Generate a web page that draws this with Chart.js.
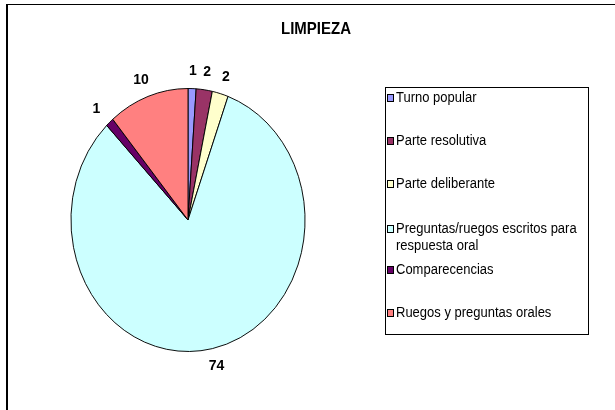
<!DOCTYPE html>
<html>
<head>
<meta charset="utf-8">
<script src="https://cdn.jsdelivr.net/npm/chart.js@4.4.0/dist/chart.umd.min.js"></script>
<style>
  html, body { margin: 0; padding: 0; background: #fff; overflow: hidden; }
  #wrap { position: relative; width: 615px; height: 410px; }
  #frame { position: absolute; left: 6px; top: 4px; width: 700px; height: 500px;
           border-top: 1px solid #000; border-left: 2px solid #000; }
  canvas { position: absolute; left: 0; top: 0; }
</style>
</head>
<body>
<div id="wrap">
  <div id="frame"></div>
  <canvas id="chartLimpieza" width="615" height="410"></canvas>
</div>
<script>
// data
var chartTitle = "LIMPIEZA";
var categories = [
    "Turno popular",
    "Parte resolutiva",
    "Parte deliberante",
    "Preguntas/ruegos escritos para respuesta oral",
    "Comparecencias",
    "Ruegos y preguntas orales"
];
var values = [1, 2, 2, 74, 1, 10];
var sliceColors = ["#9999FF", "#993366", "#FFFFCC", "#CCFFFF", "#660066", "#FF8080"];

// the excel picture is stretched a bit vertically (pie and text)
var squeezeX = 117.5 / 132;
var textStretch = 1.1;
var labelFont = "bold 14px 'Liberation Sans', Arial, sans-serif";
var legendFont = "13px 'Liberation Sans', Arial, sans-serif";

function tallText(ctx, txt, x, y) {
    ctx.save();
    ctx.translate(x, y);
    ctx.scale(1, textStretch);
    ctx.fillText(txt, 0, 0);
    ctx.restore();
}

var squashPlugin = {
    id: 'squash',
    beforeDatasetsDraw: function (chart) {
        var arc = chart.getDatasetMeta(0).data[0];
        var ctx = chart.ctx;
        ctx.save();
        ctx.translate(arc.x, arc.y);
        ctx.scale(squeezeX, 1);
        ctx.translate(-arc.x, -arc.y);
    },
    afterDatasetsDraw: function (chart) {
        chart.ctx.restore();
    }
};

var textPlugin = {
    id: 'texts',
    afterDraw: function (chart) {
        var ctx = chart.ctx;
        ctx.save();
        ctx.fillStyle = '#000';
        // title
        ctx.font = "bold 15px 'Liberation Sans', Arial, sans-serif";
        ctx.textAlign = 'center';
        ctx.textBaseline = 'middle';
        tallText(ctx, chartTitle, 316, 29);

        // value labels outside the slices
        ctx.font = labelFont;
        var meta = chart.getDatasetMeta(0);
        meta.data.forEach(function (arc, i) {
            var p = arc.getProps(['x', 'y', 'startAngle', 'endAngle', 'outerRadius'], true);
            var mid = (p.startAngle + p.endAngle) / 2;
            var lx = p.x + (p.outerRadius * squeezeX + 20) * Math.cos(mid);
            var ly = p.y + (p.outerRadius + 18) * Math.sin(mid);
            tallText(ctx, String(values[i]), lx, ly);
        });

        // legend box
        var bx = 385, by = 87, bw = 203, bh = 247;
        ctx.lineWidth = 1;
        ctx.strokeStyle = '#000';
        ctx.strokeRect(bx + 0.5, by + 0.5, bw, bh);
        ctx.font = legendFont;
        ctx.textAlign = 'left';
        for (var i = 0; i < categories.length; i++) {
            var y = 98 + i * 43;
            // wrap long labels
            var words = categories[i].split(' ');
            var lines = [];
            var cur = '';
            words.forEach(function (w) {
                var test = cur ? cur + ' ' + w : w;
                if (ctx.measureText(test).width > 190 && cur) {
                    lines.push(cur);
                    cur = w;
                } else {
                    cur = test;
                }
            });
            lines.push(cur);
            if (lines.length > 1) y += 2;
            ctx.fillStyle = sliceColors[i];
            ctx.fillRect(388, y - 3, 5, 6);
            ctx.strokeRect(387.5, y - 3.5, 6, 7);
            ctx.fillStyle = '#000';
            for (var j = 0; j < lines.length; j++) {
                tallText(ctx, lines[j], 396, y + j * 17);
            }
        }
        ctx.restore();
    }
};

var ctx = document.getElementById('chartLimpieza');
var chart = new Chart(ctx, {
    type: 'pie',
    data: {
        labels: categories,
        datasets: [{
            data: values,
            backgroundColor: sliceColors,
            borderColor: '#000',
            borderWidth: 1
        }]
    },
    options: {
        responsive: false,
        animation: false,
        events: [],
        // puts the pie centre at about (188, 220), radius 132
        layout: { padding: { left: 56, right: 295, top: 88, bottom: 58 } },
        plugins: {
            legend: { display: false },
            title: { display: false },
            tooltip: { enabled: false }
        }
    },
    plugins: [squashPlugin, textPlugin]
});
</script>
</body>
</html>
